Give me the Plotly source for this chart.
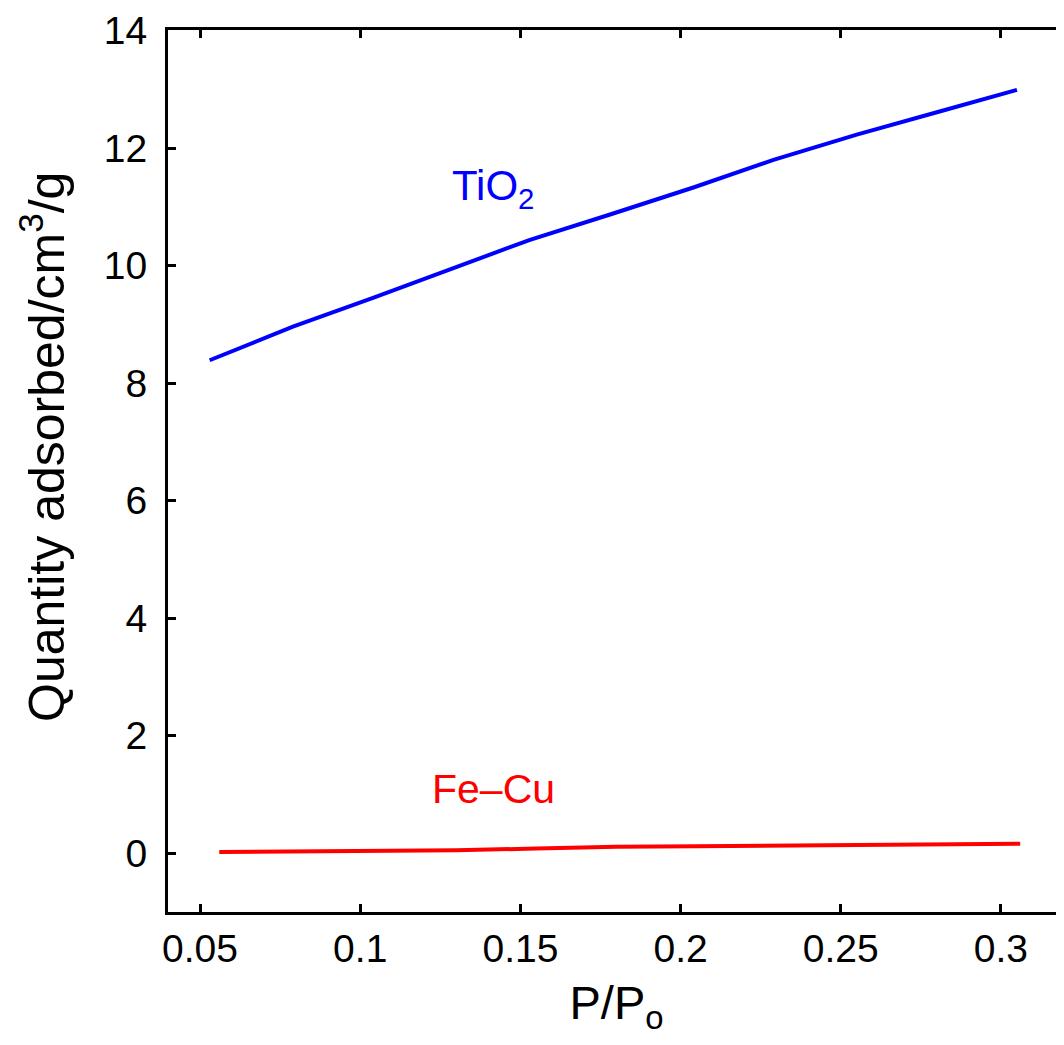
import plotly.graph_objects as go

# data (P/Po vs quantity adsorbed)
tio2_p = [0.053, 0.079, 0.104, 0.128, 0.153, 0.178, 0.204, 0.229, 0.255, 0.280, 0.305]
tio2_q = [8.39, 8.96, 9.45, 9.93, 10.44, 10.87, 11.33, 11.80, 12.23, 12.61, 12.99]

fecu_p = [0.056, 0.080, 0.105, 0.130, 0.155, 0.180, 0.205, 0.230, 0.255, 0.280, 0.306]
fecu_q = [0.02, 0.03, 0.04, 0.05, 0.08, 0.11, 0.12, 0.13, 0.15, 0.15, 0.16]

x_ticks = [0.05, 0.1, 0.15, 0.2, 0.25, 0.3]
x_ticktext = ["0.05", "0.1", "0.15", "0.2", "0.25", "0.3"]
y_ticks = [0, 2, 4, 6, 8, 10, 12, 14]
y_ticktext = [str(v) for v in y_ticks]

FONT = "Liberation Sans, Arial, Helvetica, sans-serif"

fig = go.Figure()
fig.add_trace(
    go.Scatter(x=tio2_p, y=tio2_q, mode="lines", name="TiO2",
               line=dict(color="#0000ff", width=4))
)
fig.add_trace(
    go.Scatter(x=fecu_p, y=fecu_q, mode="lines", name="Fe-Cu",
               line=dict(color="#ff0000", width=4))
)

# inline labels next to the curves
fig.add_annotation(x=0.1416, y=11.32, text="TiO<sub>2</sub>", showarrow=False,
                   font=dict(family=FONT, size=42, color="#0000ff"))
fig.add_annotation(x=0.1416, y=1.1, text="Fe\u2013Cu", showarrow=False,
                   font=dict(family=FONT, size=41, color="#ff0000"))

# y title as a paper annotation so it can sit a bit above centre like the original
fig.add_annotation(x=-0.1775, y=0.527, xref="paper", yref="paper",
                   xanchor="left", yanchor="middle", textangle=-90,
                   text="Quantity adsorbed/cm<sup>3</sup>/g", showarrow=False,
                   font=dict(family=FONT, size=50, color="black"))

axis_common = dict(
    showgrid=False, zeroline=False, showline=True, linecolor="black", linewidth=3,
    mirror="allticks", ticks="inside", ticklen=8, tickwidth=2.5, tickcolor="black",
    tickfont=dict(family=FONT, size=39, color="black"), automargin=False,
)

fig.update_layout(
    width=1064, height=1045,
    margin=dict(l=160, r=7, t=22, b=141),
    plot_bgcolor="white", paper_bgcolor="white",
    showlegend=False,
    font=dict(family=FONT, color="black"),
    xaxis=dict(range=[0.04, 0.32], tickvals=x_ticks, ticktext=x_ticktext,
               title=dict(text="P/P<sub>o</sub>", font=dict(family=FONT, size=47),
                          standoff=18),
               **axis_common),
    yaxis=dict(range=[-1, 14.01], tickvals=y_ticks, ticktext=y_ticktext,
               ticklabelstandoff=10, ticklabeloverflow="allow",
               **axis_common),
)

fig.write_html("out.html")
